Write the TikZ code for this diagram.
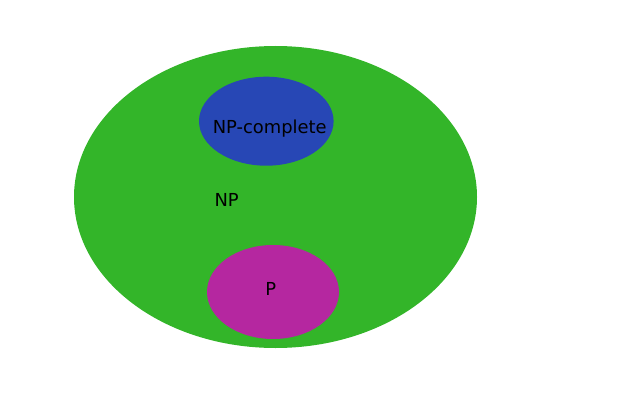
\documentclass[tikz,border=0pt]{standalone}
\usepackage{fontspec}
\setmainfont{DejaVu Sans}
\definecolor{npgreen}{RGB}{51,181,41}
\definecolor{npcblue}{RGB}{39,71,181}
\definecolor{pmag}{RGB}{181,39,160}
\begin{document}
\begin{tikzpicture}[x=1pt,y=1pt,
  setlabel/.style={anchor=base,inner sep=0pt,font=\fontsize{17.9}{20}\selectfont,text=black}]
\useasboundingbox (0,0) rectangle (640,400);
\fill[npgreen] (275.5,203) ellipse [x radius=201.5, y radius=151];
\fill[npcblue] (266.3,278.8) ellipse [x radius=67.3, y radius=44.5];
\fill[pmag] (273,108) ellipse [x radius=66, y radius=47];
\node[setlabel] (npc) at (269.7,266.7) {NP-complete};
\node[setlabel] (np) at (226.7,193.3) {NP};
\node[setlabel] (p) at (270.7,105) {P};
\end{tikzpicture}
\end{document}
